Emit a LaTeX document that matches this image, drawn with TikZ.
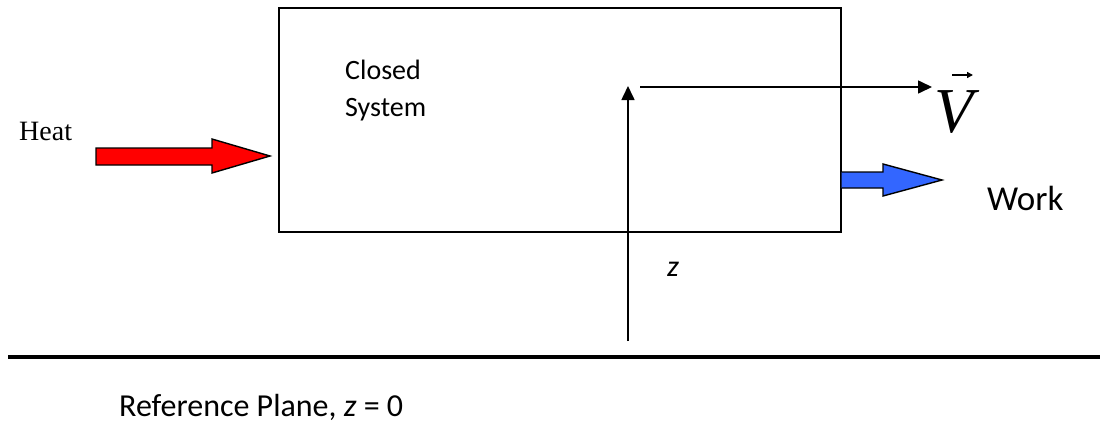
\documentclass[tikz,border=0pt]{standalone}
\usepackage{fontspec}
\setmainfont{Carlito}
\newfontfamily\serifalt{Liberation Serif}
\usetikzlibrary{arrows.meta}
\tikzset{
  sysbox/.style={draw, line width=1.6pt, minimum width=562pt, minimum height=224pt, inner sep=0pt},
  thinarrow/.style={line width=1.6pt, -{Triangle[length=14pt,width=13pt]}},
  blockarrow/.style={draw, line width=1.4pt, line join=miter},
  lbl/.style={inner sep=0pt, anchor=west},
}
\begin{document}
\begin{tikzpicture}[x=1pt,y=-1pt]
\useasboundingbox (0,0) rectangle (1100,442);
% system box
\node[sysbox, anchor=north west] (box) at (278,7) {};
% heat
\node[lbl, font=\serifalt\fontsize{28}{28}\selectfont] (heat) at (19,131) {Heat};
\draw[blockarrow, fill=red] (96,148) -- (212,148) -- (212,139) -- (270,156) -- (212,173) -- (212,165) -- (96,165) -- cycle;
% work
\draw[blockarrow, fill={rgb,255:red,51;green,102;blue,255}] (box.east |- 0,172) -- (883,172) -- (883,164) -- (942,180) -- (883,196) -- (883,188) -- (box.east |- 0,188);
\node[lbl, font=\fontsize{35}{35}\selectfont] (work) at (987,198) {Work};
% closed system label
\node[lbl, font=\fontsize{28}{37}\selectfont, align=left, anchor=north west] (cs) at (345,60) {Closed\\System};
% z axis and velocity
\coordinate (zbase) at (628,341);
\coordinate (ztip) at (628,86);
\draw[thinarrow] (zbase) -- (ztip);
\coordinate (vstart) at (640,87);
\node[lbl, font=\serifalt\itshape\fontsize{64}{64}\selectfont] (V) at (934,112) {V};
\draw[line width=1.4pt, -{Triangle[length=6pt,width=6pt]}] ([xshift=18pt,yshift=37pt]V.west) -- ([xshift=39pt,yshift=37pt]V.west);
\draw[thinarrow] (vstart) -- (932,87);
\node[lbl, font=\itshape\fontsize{30}{30}\selectfont] (z) at (667,269) {z};
% reference plane
\coordinate (rpL) at (8,357);
\coordinate (rpR) at (1100,357);
\draw[line width=4pt] (rpL) -- (rpR);
\node[lbl, font=\fontsize{32}{32}\selectfont] (rp) at (119,407) {Reference Plane, \textit{z} = 0};
\end{tikzpicture}
\end{document}
